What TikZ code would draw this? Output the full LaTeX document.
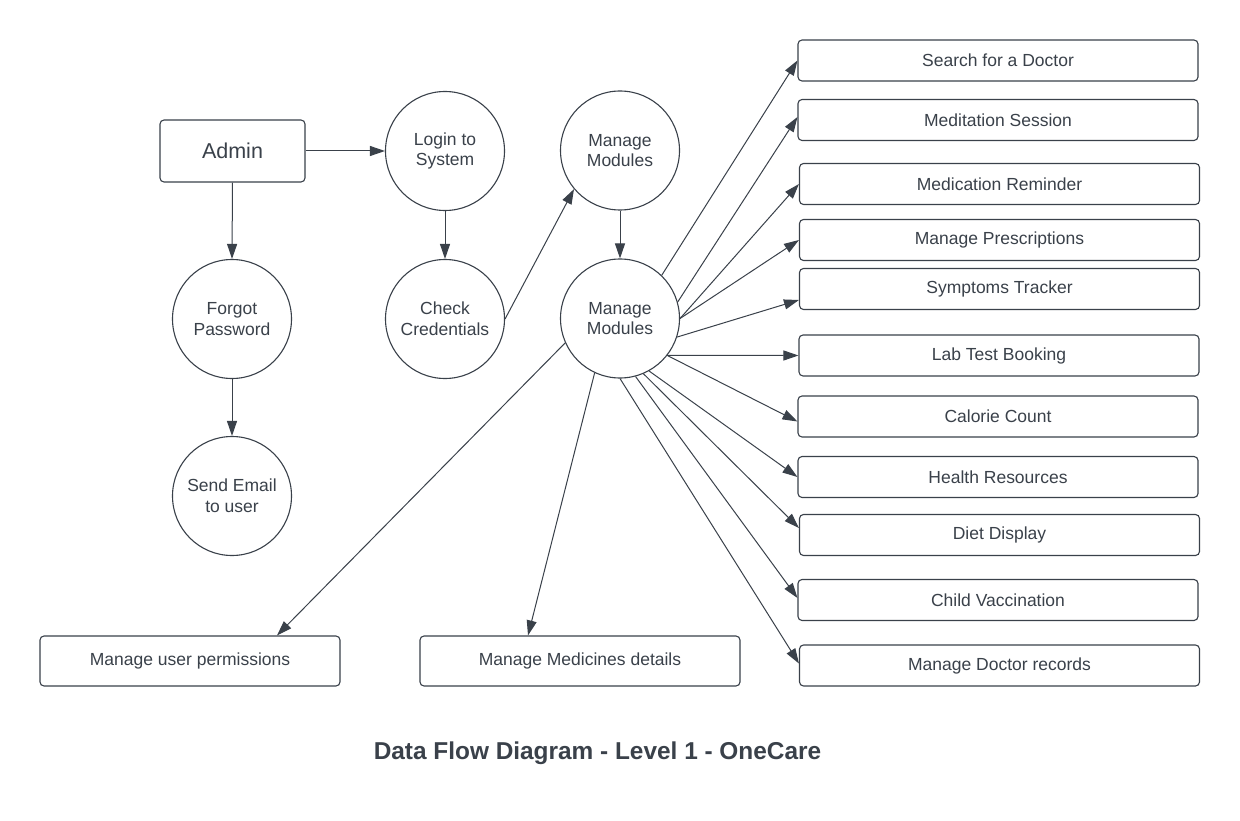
\documentclass[tikz,border=0pt]{standalone}
\usepackage{fontspec}
\setmainfont{Liberation Sans}
\usetikzlibrary{arrows.meta}
\definecolor{ink}{RGB}{58,65,74}
\begin{document}
\begin{tikzpicture}[x=1pt,y=-1pt,
  box/.style={draw=ink,line width=1.1pt,rounded corners=4pt,minimum width=400pt,minimum height=41pt,inner sep=0pt,text=ink,font=\fontsize{17.5}{21}\selectfont},
  proc/.style={draw=ink,line width=1.1pt,circle,minimum size=119pt,inner sep=0pt,text=ink,align=center,font=\fontsize{17.5}{20.7}\selectfont},
  flow/.style={draw=ink,line width=1pt,-{Triangle[length=15pt,width=10pt]}}]
\fill[white] (0,0) rectangle (1240,821);
\useasboundingbox (0,0) rectangle (1240,821);

% left part
\node[box,minimum width=145pt,minimum height=62pt,font=\fontsize{21.5}{25}\selectfont] (admin) at (232.5,151) {Admin};
\node[proc] (login) at (445,151) {Login to\\System};
\node[proc] (check) at (445,319) {Check\\Credentials};
\node[proc] (forgot) at (232,319) {Forgot\\Password};
\node[proc] (email) at (232,496) {Send Email\\to user};
\node[proc] (mm1) at (620,150.5) {Manage\\Modules};
\node[proc] (mm2) at (620,318.5) {Manage\\Modules};

% right boxes
\node[box] (search) at (998,60.5) {Search for a Doctor};
\node[box] (medit) at (998,120) {Meditation Session};
\node[box] (remind) at (999.5,184) {Medication Reminder};
\node[box] (presc) at (999.5,240) {Manage Prescriptions};
\node[box] (sympt) at (999.5,289) {Symptoms Tracker};
\node[box] (lab) at (999,355.5) {Lab Test Booking};
\node[box] (cal) at (998,416.5) {Calorie Count};
\node[box] (health) at (998,477) {Health Resources};
\node[box] (diet) at (999.5,535) {Diet Display};
\node[box] (child) at (998,600) {Child Vaccination};
\node[box] (docrec) at (999.5,665.5) {Manage Doctor records};

% bottom boxes
\node[box,minimum width=300pt,minimum height=50pt] (upm) at (190,661) {Manage user permissions};
\node[box,minimum width=320pt,minimum height=50pt] (med) at (580,661) {Manage Medicines details};

% title
\node[text=ink,font=\bfseries\fontsize{24.4}{29}\selectfont] (title) at (597.5,753) {Data Flow Diagram - Level 1 - OneCare};

% connectors
\draw[flow] (admin.east) -- (login.west |- admin.east);
\draw[flow] (admin.south) -- (forgot.north);
\draw[flow] (forgot.south) -- (email.north);
\draw[flow] (login.south) -- (check.north);
\draw[flow] (check.east) -- (mm1.220);
\draw[flow] (mm1.south) -- (mm2.north);

\draw[flow] (mm2.46) -- (search.west);
\draw[flow] (mm2.16) -- ([yshift=3pt]medit.west);
\draw[flow] (mm2.0) -- (remind.west);
\draw[flow] (mm2.0) -- (presc.west);
\draw[flow] (mm2.-18) -- ([yshift=-11pt]sympt.west);
\draw[flow] (mm2.-38) -- (lab.west);
\draw[flow] (mm2.-38) -- ([yshift=-5pt]cal.west);
\draw[flow] (mm2.-61) -- (health.west);
\draw[flow] (mm2.-67) -- ([yshift=7pt]diet.west);
\draw[flow] (mm2.-75) -- ([yshift=2pt]child.west);
\draw[flow] (mm2.-90) -- ([yshift=2pt]docrec.west);
\draw[flow] (mm2.204) -- ([xshift=87pt]upm.north);
\draw[flow] (mm2.245) -- ([xshift=-52pt]med.north);
\end{tikzpicture}
\end{document}
